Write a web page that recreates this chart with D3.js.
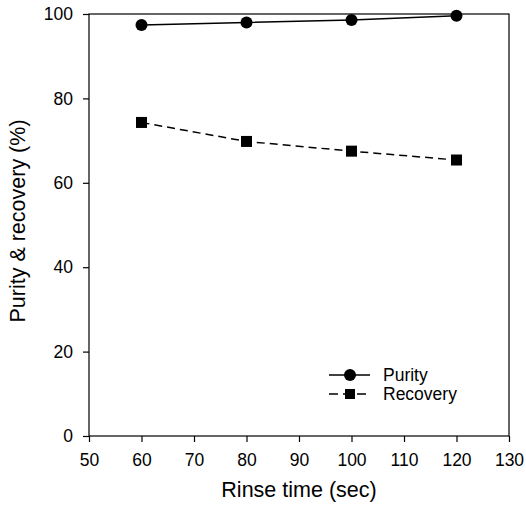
<!DOCTYPE html>
<html>
<head>
<meta charset="utf-8">
<script src="https://cdn.jsdelivr.net/npm/d3@7"></script>
<style>
  body { margin: 0; background: #fff; }
  text { font-family: "Liberation Sans", Arial, sans-serif; fill: #000; }
</style>
</head>
<body>
<div id="chart"></div>
<script>
// Rinse time (sec)
const rinseTimes = [60, 80, 100, 120];
const purity = [97.4, 98.0, 98.6, 99.6];
const recovery = [74.3, 69.8, 67.5, 65.4];
const xTicks = [50, 60, 70, 80, 90, 100, 110, 120, 130];
const yTicks = [0, 20, 40, 60, 80, 100];

const width = 526;
const height = 505;
const margin = { top: 14, right: 17, bottom: 69, left: 89 };
const w = width - margin.left - margin.right;
const h = height - margin.top - margin.bottom;

const svg = d3.select("#chart")
    .append("svg")
    .attr("width", width)
    .attr("height", height);

const g = svg.append("g")
    .attr("transform", `translate(${margin.left},${margin.top})`);

const x = d3.scaleLinear().domain([50, 130]).range([0, w]);
const y = d3.scaleLinear().domain([0, 100]).range([h, 0]);

// Frame
g.append("rect")
    .attr("width", w)
    .attr("height", h)
    .attr("fill", "none")
    .attr("stroke", "#000")
    .attr("stroke-width", 1.2);

// Axes
const xAxis = g.append("g")
    .attr("transform", `translate(0,${h})`)
    .call(d3.axisBottom(x).tickValues(xTicks).tickSize(6).tickPadding(12));
const yAxis = g.append("g")
    .call(d3.axisLeft(y).tickValues(yTicks).tickSize(6).tickPadding(10));

[xAxis, yAxis].forEach(a => {
  a.select(".domain").remove();
  a.selectAll("line").attr("stroke", "#000").attr("stroke-width", 1.2);
  a.selectAll("text").style("font-size", "17.5px").style("font-family", "Liberation Sans, Arial, sans-serif");
});

// Axis titles
svg.append("text")
    .attr("x", margin.left + w / 2)
    .attr("y", 497)
    .attr("text-anchor", "middle")
    .style("font-size", "21.5px")
    .text("Rinse time (sec)");

svg.append("text")
    .attr("transform", `translate(25,${margin.top + h / 2 - 4}) rotate(-90)`)
    .attr("text-anchor", "middle")
    .style("font-size", "21.5px")
    .text("Purity & recovery (%)");

const line = d3.line()
    .x(d => x(d[0]))
    .y(d => y(d[1]));

const purityData = rinseTimes.map((t, i) => [t, purity[i]]);
const recoveryData = rinseTimes.map((t, i) => [t, recovery[i]]);

// Purity line
g.append("path")
    .datum(purityData)
    .attr("fill", "none")
    .attr("stroke", "#000")
    .attr("stroke-width", 1.5)
    .attr("d", line);

g.selectAll(".pdot")
    .data(purityData)
    .enter()
    .append("circle")
    .attr("cx", d => x(d[0]))
    .attr("cy", d => y(d[1]))
    .attr("r", 6)
    .attr("fill", "#000");

// Recovery line
g.append("path")
    .datum(recoveryData)
    .attr("fill", "none")
    .attr("stroke", "#000")
    .attr("stroke-width", 1.5)
    .attr("stroke-dasharray", "8,5")
    .attr("d", line);

g.selectAll(".rdot")
    .data(recoveryData)
    .enter()
    .append("rect")
    .attr("x", d => x(d[0]) - 5.5)
    .attr("y", d => y(d[1]) - 5.5)
    .attr("width", 11)
    .attr("height", 11)
    .attr("fill", "#000");

// Legend
const legend = svg.append("g");
legend.append("line")
    .attr("x1", 329).attr("x2", 370).attr("y1", 375).attr("y2", 375)
    .attr("stroke", "#000").attr("stroke-width", 1.5);
legend.append("circle").attr("cx", 350).attr("cy", 375).attr("r", 6).attr("fill", "#000");
legend.append("text").attr("x", 383).attr("y", 381).style("font-size", "17.5px").text("Purity");

legend.append("line")
    .attr("x1", 329).attr("x2", 370).attr("y1", 394).attr("y2", 394)
    .attr("stroke", "#000").attr("stroke-width", 1.5)
    .attr("stroke-dasharray", "9,5");
legend.append("rect").attr("x", 345).attr("y", 389).attr("width", 10).attr("height", 10).attr("fill", "#000");
legend.append("text").attr("x", 383).attr("y", 400).style("font-size", "17.5px").text("Recovery");
</script>
</body>
</html>
